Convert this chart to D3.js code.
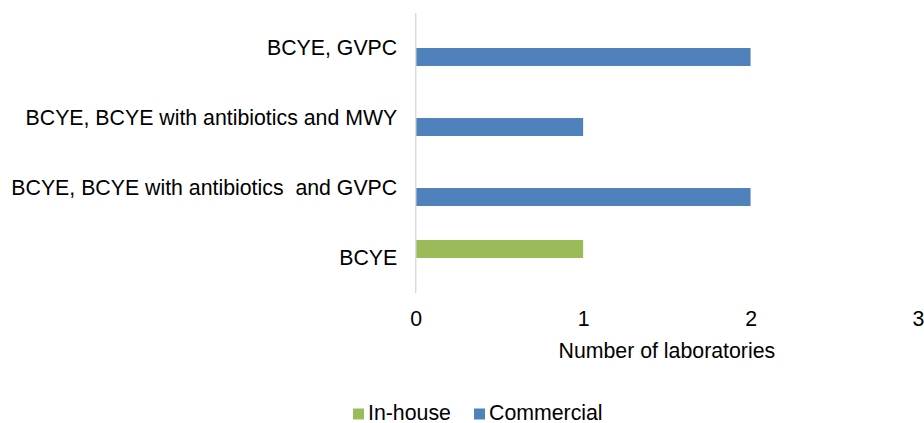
<!DOCTYPE html>
<html>
<head>
<meta charset="utf-8">
<script src="https://cdn.jsdelivr.net/npm/d3@7"></script>
<style>
html,body{margin:0;padding:0;background:#fff;}
svg{display:block;font-family:"Liberation Sans",Arial,sans-serif;}
</style>
</head>
<body>
<svg id="chart" width="924" height="423"></svg>
<script>
const categories = ["BCYE, GVPC", "BCYE, BCYE with antibiotics and MWY", "BCYE, BCYE with antibiotics  and GVPC", "BCYE"];
const seriesNames = ["In-house", "Commercial"];
const inHouse = [0, 0, 0, 1];
const commercial = [2, 1, 2, 0];
const xTicks = [0, 1, 2, 3];
const xTitle = "Number of laboratories";
const colors = ["#9bbb59", "#4f81bd"];

(function () {
const svg = d3.select("#chart");
const pLeft = 415.7, pRight = 918, pTop = 13, pBottom = 293;
const fontSize = 21.3;

const x = d3.scaleLinear().domain([0, 3]).range([pLeft, pRight]);
const y = d3.scaleBand().domain(categories).range([pTop, pBottom]).paddingInner(0).paddingOuter(0);
const barH = 18;
const seriesData = [inHouse, commercial];
// In-house above centre, Commercial below centre
const sub = d3.scaleBand().domain(seriesNames).range([-barH, barH]);

const g = svg.append("g");
seriesNames.forEach((s, si) => {
  g.selectAll(null)
    .data(categories.map((c, i) => ({c, v: seriesData[si][i]})).filter(d => d.v > 0))
    .enter().append("rect")
    .attr("x", x(0))
    .attr("y", d => y(d.c) + y.bandwidth() / 2 + sub(s))
    .attr("width", d => x(d.v) - x(0))
    .attr("height", sub.bandwidth())
    .attr("fill", colors[si]);
});

// vertical axis line
svg.append("line")
  .attr("x1", x(0)).attr("x2", x(0))
  .attr("y1", pTop).attr("y2", pBottom)
  .attr("stroke", "#d9d9d9").attr("stroke-width", 1.5);

// category labels
const yAxis = d3.axisLeft(y).tickSize(0).tickPadding(18.5);
const ya = svg.append("g").attr("transform", `translate(${x(0)},0)`).call(yAxis);
ya.select(".domain").remove();
ya.selectAll("text").attr("font-size", fontSize).attr("fill", "#000")
  .attr("font-family", "Liberation Sans, Arial, sans-serif").style("white-space", "pre");

// x ticks
const xAxis = d3.axisBottom(x).tickValues(xTicks).tickSize(0).tickPadding(0).tickFormat(d3.format("d"));
const xa = svg.append("g").attr("transform", `translate(0,${pBottom})`).call(xAxis);
xa.select(".domain").remove();
xa.selectAll("text").attr("font-size", fontSize).attr("fill", "#000")
  .attr("font-family", "Liberation Sans, Arial, sans-serif")
  .attr("dy", null).attr("y", 33);

// axis title
svg.append("text")
  .attr("x", (pLeft + pRight) / 2).attr("y", 358)
  .attr("text-anchor", "middle").attr("font-size", fontSize).attr("fill", "#000")
  .text(xTitle);

// legend
const legendItems = [
  {name: seriesNames[0], color: colors[0], x: 353},
  {name: seriesNames[1], color: colors[1], x: 474}
];
const lg = svg.append("g");
legendItems.forEach(it => {
  lg.append("rect").attr("x", it.x).attr("y", 408.5).attr("width", 11).attr("height", 11).attr("fill", it.color);
  lg.append("text").attr("x", it.x + 15).attr("y", 419.5).attr("font-size", fontSize).attr("fill", "#000").text(it.name);
});
})();
</script>
</body>
</html>
